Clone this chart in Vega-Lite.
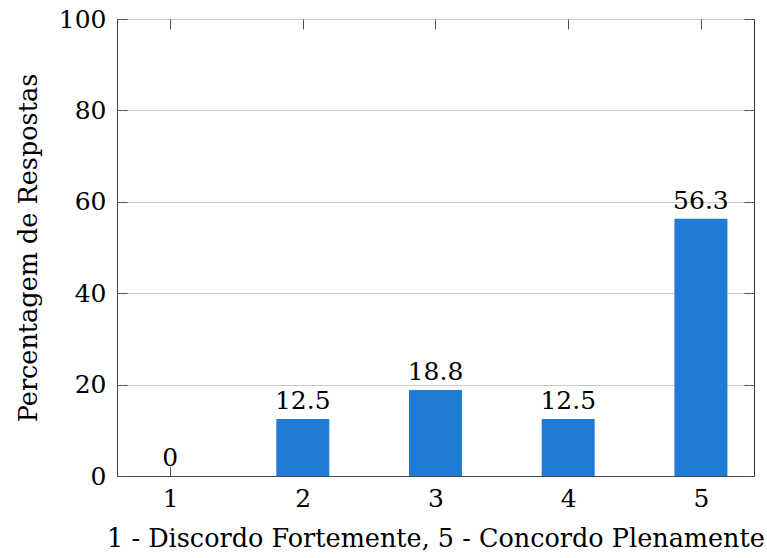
{
  "$schema": "https://vega.github.io/schema/vega-lite/v6.json",
  "width": 637,
  "height": 457,
  "autosize": "none",
  "padding": {"left": 117, "top": 19, "right": 13, "bottom": 82},
  "background": "white",
  "config": {
    "font": "DejaVu Serif",
    "view": {"stroke": "#333", "strokeWidth": 1},
    "axis": {"labelFont": "DejaVu Serif", "titleFont": "DejaVu Serif", "labelFontSize": 25, "titleFontSize": 25.5, "labelColor": "#000", "titleColor": "#000", "titleFontWeight": "normal", "domainColor": "#444", "tickColor": "#555", "gridColor": "#c8c8c8"}
  },
  "data": {"values": [
    {"cat": 1, "pct": 0},
    {"cat": 2, "pct": 12.5},
    {"cat": 3, "pct": 18.8},
    {"cat": 4, "pct": 12.5},
    {"cat": 5, "pct": 56.3}
  ]},
  "layer": [
    {
      "mark": {"type": "bar", "size": 53, "color": "#1f7bd4"},
      "encoding": {
        "x": {"field": "cat", "type": "quantitative", "scale": {"domain": [0.6, 5.4], "nice": false, "zero": false, "padding": 0},
          "axis": {"orient": "bottom", "values": [1, 2, 3, 4, 5], "format": "d", "tickSize": -10, "labelPadding": 20, "grid": false, "title": "1 - Discordo Fortemente, 5 - Concordo Plenamente", "titlePadding": 15}},
        "y": {"field": "pct", "type": "quantitative", "scale": {"domain": [0, 100], "nice": false},
          "axis": {"orient": "left", "values": [0, 20, 40, 60, 80, 100], "tickSize": -10, "labelPadding": 21, "grid": true, "title": "Percentagem de Respostas", "titlePadding": 17}}
      }
    },
    {
      "mark": {"type": "text", "baseline": "alphabetic", "dy": -10, "fontSize": 25, "font": "DejaVu Serif", "color": "#000"},
      "encoding": {
        "x": {"field": "cat", "type": "quantitative",
          "axis": {"orient": "top", "values": [1, 2, 3, 4, 5], "labels": false, "tickSize": -10, "domain": false, "grid": false, "title": null}},
        "y": {"field": "pct", "type": "quantitative",
          "axis": {"orient": "right", "values": [0, 20, 40, 60, 80, 100], "labels": false, "tickSize": -10, "domain": false, "grid": false, "title": null}},
        "text": {"field": "pct", "type": "quantitative", "format": ".1~f"}
      }
    }
  ],
  "resolve": {"axis": {"x": "independent", "y": "independent"}}
}
